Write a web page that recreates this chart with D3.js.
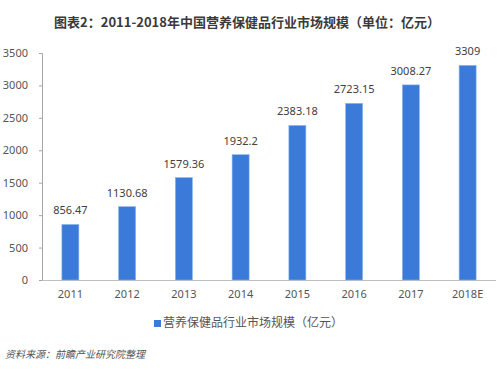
<!DOCTYPE html>
<html>
<head>
<meta charset="utf-8">
<script src="https://cdn.jsdelivr.net/npm/d3@7"></script>
<style>
  body { margin: 0; background: #fff; }
  svg { font-family: "Noto Sans CJK SC", "Microsoft YaHei", sans-serif; }
</style>
</head>
<body>
<div id="chart"></div>
<script>
const years = ["2011", "2012", "2013", "2014", "2015", "2016", "2017", "2018E"];
const marketSize = [856.47, 1130.68, 1579.36, 1932.2, 2383.18, 2723.15, 3008.27, 3309];
const valueLabels = ["856.47", "1130.68", "1579.36", "1932.2", "2383.18", "2723.15", "3008.27", "3309"];
const yTicks = [0, 500, 1000, 1500, 2000, 2500, 3000, 3500];

const W = 500, H = 372;
const margin = {top: 53, right: 4, bottom: 92, left: 42};
const width = W - margin.left - margin.right;
const height = H - margin.top - margin.bottom;

const svg = d3.select("#chart").append("svg")
    .attr("width", W).attr("height", H);

// title
svg.append("text")
    .attr("x", 247).attr("y", 27)
    .attr("text-anchor", "middle")
    .style("font-size", "13px").style("font-weight", "bold")
    .style("fill", "#3a3a3a")
    .text("图表2：2011-2018年中国营养保健品行业市场规模（单位：亿元）");

const g = svg.append("g")
    .attr("transform", "translate(" + margin.left + "," + margin.top + ")");

const x = d3.scaleBand().domain(years).range([0, width]).paddingInner(0.7).paddingOuter(0.35);
const y = d3.scaleLinear().domain([0, 3500]).range([height, 0]);

// y axis
const yAxis = g.append("g")
    .call(d3.axisLeft(y).tickValues(yTicks).tickFormat(d3.format("d")).tickSize(3).tickPadding(11));
yAxis.select(".domain").attr("stroke", "#a6a6a6");
yAxis.selectAll(".tick line").attr("stroke", "#a6a6a6");
yAxis.selectAll("text").style("font-size", "11px").style("fill", "#555")
    .style("font-family", "'Noto Sans', sans-serif");

// x axis
const xAxis = g.append("g")
    .attr("transform", "translate(0," + height + ")")
    .call(d3.axisBottom(x).tickSize(0).tickPadding(10));
xAxis.select(".domain").attr("stroke", "#bfbfbf").attr("d", "M0,0.5H" + width);
xAxis.selectAll("text").style("font-size", "11px").style("fill", "#555")
    .style("font-family", "'Noto Sans', sans-serif");

// bars
g.selectAll(".bar")
    .data(marketSize)
  .enter().append("rect")
    .attr("class", "bar")
    .attr("x", (d, i) => x(years[i]))
    .attr("width", x.bandwidth())
    .attr("y", d => y(d))
    .attr("height", d => height - y(d))
    .attr("fill", "#3b7ad8")
    .attr("stroke", "#8ab8ee").attr("stroke-width", 0.6);

// value labels
g.selectAll(".val")
    .data(marketSize)
  .enter().append("text")
    .attr("class", "val")
    .attr("x", (d, i) => x(years[i]) + x.bandwidth() / 2)
    .attr("y", d => y(d) - 10)
    .attr("text-anchor", "middle")
    .style("font-size", "11px").style("fill", "#404040")
    .style("font-family", "'Noto Sans', sans-serif")
    .text((d, i) => valueLabels[i]);

// legend
const lg = svg.append("g").attr("transform", "translate(154,327)");
lg.append("rect").attr("x", 0).attr("y", -7).attr("width", 7).attr("height", 7).attr("fill", "#3b7ad8");
lg.append("text").attr("x", 9).attr("y", 0)
    .style("font-size", "12px").style("fill", "#555")
    .text("营养保健品行业市场规模（亿元）");

// source
svg.append("text")
    .attr("x", 5).attr("y", 358)
    .style("font-size", "10px").style("font-style", "italic").style("fill", "#555")
    .text("资料来源：前瞻产业研究院整理");
</script>
</body>
</html>
